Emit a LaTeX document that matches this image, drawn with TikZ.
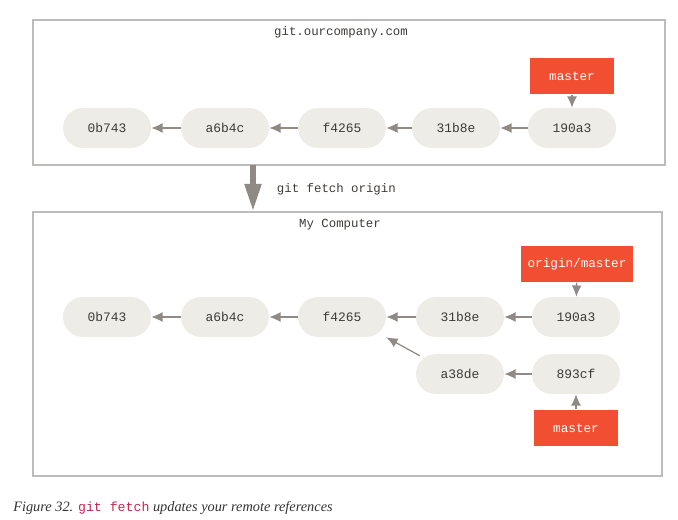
\documentclass[tikz,border=0pt]{standalone}
\usepackage{fontspec}
\setmainfont{Liberation Serif}
\setmonofont{Liberation Mono}
\usepackage{xcolor}
\usetikzlibrary{arrows.meta,positioning}
\definecolor{commitfill}{HTML}{EDECE6}
\definecolor{committext}{HTML}{3E3B38}
\definecolor{arrowgray}{HTML}{8F8A84}
\definecolor{branchred}{HTML}{F14E32}
\definecolor{framegray}{HTML}{BDBCBA}
\definecolor{captext}{HTML}{333333}
\definecolor{codered}{HTML}{C7254E}

\begin{document}
\begin{tikzpicture}[
  x=0.025cm, y=-0.025cm,
  commit/.style={rectangle, rounded corners=0.5cm, fill=commitfill, text=committext,
                 font=\fontsize{9.2}{10}\ttfamily, minimum width=2.2cm, minimum height=1cm,
                 inner sep=0pt},
  branch/.style={rectangle, fill=branchred, text=white, font=\fontsize{9}{10}\ttfamily,
                 minimum height=0.92cm, inner sep=4pt, minimum width=2.1cm},
  repo/.style={draw=framegray, line width=0.9pt},
  parent/.style={-{Latex[length=8pt,width=7pt]}, arrowgray, line width=0.9pt},
  ttl/.style={font=\fontsize{8.8}{10}\ttfamily, text=committext}
]
\useasboundingbox (0,0) rectangle (678,520);

%--- Remote repository ---
\draw[repo] (33,20) rectangle (665,165);
\node[ttl] (rtitle) at (341,32) {git.ourcompany.com};

\node[commit] (r0) at (107,128) {0b743};
\node[commit] (r1) at (225,128) {a6b4c};
\node[commit] (r2) at (342,128) {f4265};
\node[commit] (r3) at (456,128) {31b8e};
\node[commit] (r4) at (572,128) {190a3};
\node[branch] (rmaster) at (572,76) {master};

\draw[parent] (r1) -- (r0);
\draw[parent] (r2) -- (r1);
\draw[parent] (r3) -- (r2);
\draw[parent] (r4) -- (r3);
\draw[parent] (rmaster) -- (r4);

%--- Fetch ---
\coordinate (fa) at (253,165);
\coordinate (fb) at (253,212);
\draw[-{Triangle[length=20pt,width=11pt]}, arrowgray, line width=4.5pt] (fa) -- (fb);
\node[ttl, anchor=west] (fetch) at (272,189) {git fetch origin};

%--- Local repository ---
\draw[repo] (33,212) rectangle (662,476);
\node[ttl] (ltitle) at (340,225) {My Computer};

\node[commit] (l0) at (107,317) {0b743};
\node[commit] (l1) at (225,317) {a6b4c};
\node[commit] (l2) at (342,317) {f4265};
\node[commit] (l3) at (460,317) {31b8e};
\node[commit] (l4) at (576,317) {190a3};
\node[commit] (l5) at (460,374) {a38de};
\node[commit] (l6) at (576,374) {893cf};
\node[branch, minimum width=2.8cm] (origin) at (577,264) {origin/master};
\node[branch] (lmaster) at (576,428) {master};

\draw[parent] (l1) -- (l0);
\draw[parent] (l2) -- (l1);
\draw[parent] (l3) -- (l2);
\draw[parent] (l4) -- (l3);
\draw[parent] (l6) -- (l5);
\coordinate (l5c) at ([xshift=0.1cm,yshift=-0.05cm]l5.north west);
\draw[parent] (l5c) -- (l2.south east);
\draw[parent] (origin) -- (l4);
\draw[parent] (lmaster) -- (l6);

%--- Caption ---
\node[anchor=west, inner sep=0pt, text=captext, font=\fontsize{10.2}{12}\itshape] (cap) at (13,508)
  {Figure 32. {\upshape\fontsize{9.4}{12}\ttfamily\color{codered}git fetch} updates your remote references};

\end{tikzpicture}
\end{document}
